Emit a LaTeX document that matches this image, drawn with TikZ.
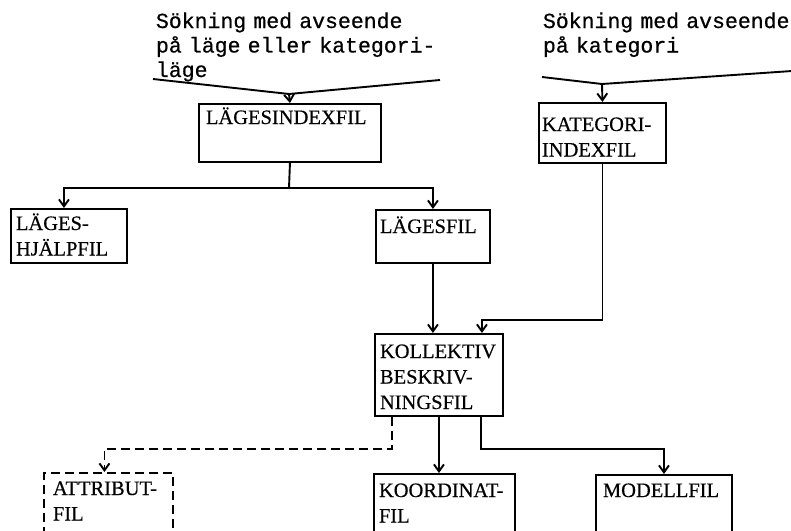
\documentclass[tikz,border=0pt]{standalone}
\usepackage{fontspec}
\setmainfont{Liberation Serif}[FakeBold=0.4]
\newfontfamily\tw{Liberation Mono}[FakeBold=0.6]
\usetikzlibrary{arrows.meta}
\begin{document}
\begin{tikzpicture}[x=1pt,y=-1pt, line width=1.9pt,
  box/.style={draw, rectangle, anchor=north west, inner sep=0pt},
  dbox/.style={box, dash pattern=on 9pt off 5pt},
  lbl/.style={anchor=base west, inner sep=0pt, align=left, text width=160pt,
    font=\fontsize{20.5}{25.5}\selectfont},
  top/.style={anchor=base west, inner sep=0pt, align=left, text width=300pt,
    font=\tw\fontsize{21.5}{24.5}\selectfont},
  arr/.style={-{Straight Barb[length=7pt,width=10pt]}},
  dsh/.style={dash pattern=on 9pt off 5pt}]
\useasboundingbox (0,0) rectangle (791,530);
\clip (0,0) rectangle (791,530);
\fill[white] (0,0) rectangle (791,530);

% search texts
\node[top] (t1) at (155,28) {Sökning med avseende\\på läge eller kategori-\\läge};
\node[top] (t2) at (542,28) {Sökning med avseende\\på kategori};

% boxes
\node[box, minimum width=182pt, minimum height=58pt] (lif) at (198,103) {};
\node[box, minimum width=127pt, minimum height=60pt] (kat) at (538,102) {};
\node[box, minimum width=116pt, minimum height=54pt] (hjalp) at (10,208) {};
\node[box, minimum width=114pt, minimum height=53pt] (lfil) at (375,209) {};
\node[box, minimum width=128pt, minimum height=82pt] (koll) at (374,333) {};
\node[dbox, minimum width=129pt, minimum height=80pt] (attr) at (43,472) {};
\node[box, minimum width=141pt, minimum height=80pt] (koord) at (373,473) {};
\node[box, minimum width=136pt, minimum height=80pt] (modell) at (595,474) {};

% labels
\node[lbl] (llif) at (205,124) {LÄGESINDEXFIL};
\node[lbl] (lkat) at (541,131) {KATEGORI-\\INDEXFIL};
\node[lbl] (lhjalp) at (15,230) {LÄGES-\\HJÄLPFIL};
\node[lbl] (llfil) at (379,233) {LÄGESFIL};
\node[lbl] (lkoll) at (379,358) {KOLLEKTIV\\BESKRIV-\\NINGSFIL};
\node[lbl] (lattr) at (52,495) {ATTRIBUT-\\FIL};
\node[lbl] (lkoord) at (378,497) {KOORDINAT-\\FIL};
\node[lbl] (lmodell) at (602,497) {MODELLFIL};

% search lines
\coordinate (a1) at (153,79);
\coordinate (a2) at (440,80);
\coordinate (j1) at (289,94);
\draw (a1) -- (j1) -- (a2);
\draw[arr] (j1) -- (lif.north);

\coordinate (b1) at (542,77);
\coordinate (b2) at (792,71);
\coordinate (j2) at (602,84);
\draw (b1) -- (j2) -- (b2);
\draw[arr] (j2) -- (kat.north);

% connections
\coordinate (h1) at (289,188);
\draw (lif.south) -- (h1);
\draw[arr] (h1) -| ([xshift=-5pt]hjalp.north);
\draw[arr] (h1) -| (lfil.south |- lfil.north);
\draw[arr] (lfil.south) -- (lfil.south |- koll.north);
\draw[arr] (kat.south) -- ++(0,156) -| ([xshift=43pt]koll.north);

\draw[arr, dsh] ([xshift=18pt]koll.south west) -- ++(0,32) -| ([xshift=-4pt]attr.north);
\draw[arr] (koll.south) -- (koll.south |- koord.north);
\draw[arr] ([xshift=-23pt]koll.south east) -- ++(0,32) -| (modell.north);
\end{tikzpicture}
\end{document}
